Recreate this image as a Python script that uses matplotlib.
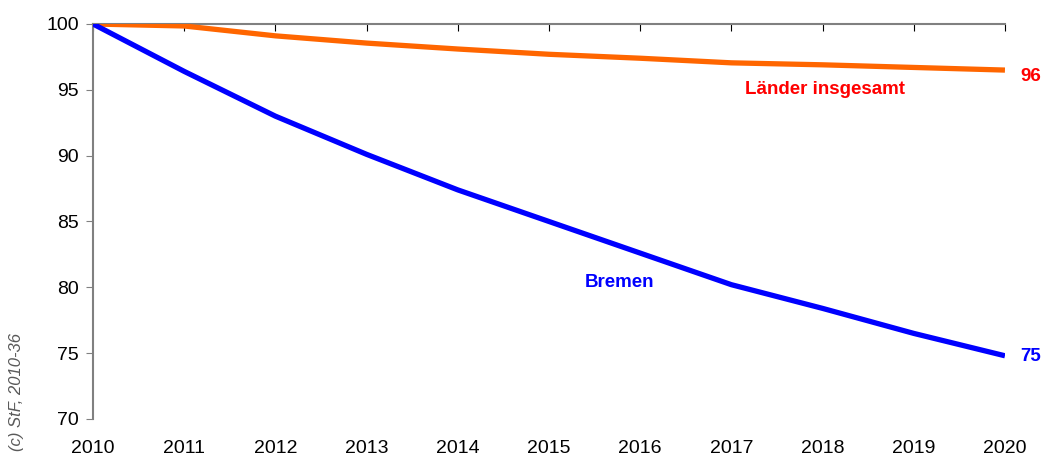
import matplotlib
matplotlib.use("Agg")
import matplotlib.pyplot as plt

plt.rcParams['font.family'] = ['Liberation Sans', 'DejaVu Sans']

years = [2010, 2011, 2012, 2013, 2014, 2015, 2016, 2017, 2018, 2019, 2020]
bremen = [100, 96.4, 93.0, 90.1, 87.4, 85.0, 82.6, 80.2, 78.4, 76.5, 74.8]
laender = [100, 99.85, 99.1, 98.55, 98.1, 97.7, 97.4, 97.05, 96.9, 96.7, 96.5]

fig = plt.figure(figsize=(10.44, 4.58), dpi=100)
ax = fig.add_axes([0.0891, 0.0852, 0.8735, 0.8624])

ax.plot(years, laender, color='#FF6600', lw=3.8, solid_capstyle='butt', zorder=3)
ax.plot(years, bremen, color='#0000FF', lw=3.8, solid_capstyle='butt', zorder=3)

ax.set_xlim(2010, 2020)
ax.set_ylim(70, 100)
ax.set_xticks(years)
ax.set_yticks(range(70, 101, 5))

for s in ['bottom', 'right']:
    ax.spines[s].set_visible(False)
for s in ['top', 'left']:
    ax.spines[s].set_color('#808080')
    ax.spines[s].set_linewidth(1.5)

ax.tick_params(axis='x', top=True, bottom=False, labeltop=False, labelbottom=True,
               direction='in', length=5, color='black', labelsize=14, pad=15)
ax.tick_params(axis='y', direction='out', length=5, color='#808080', labelsize=14, pad=5)

ax.text(2017.15, 95.0, 'Länder insgesamt', color='#FF0000', fontsize=13.5,
        fontweight='bold', va='center')
ax.text(2015.39, 80.33, 'Bremen', color='#0000FF', fontsize=13.5,
        fontweight='bold', va='center')
ax.text(2020.17, laender[-1] - 0.5, '96', color='#FF0000', fontsize=13.5,
        fontweight='bold', va='center')
ax.text(2020.17, bremen[-1] - 0.05, '75', color='#0000FF', fontsize=13.5,
        fontweight='bold', va='center')

fig.text(0.016, 0.015, '(c) StF, 2010-36', rotation=90, fontsize=12, style='italic',
         color='#595959', ha='center', va='bottom')

fig.savefig('out.png', dpi=100)
